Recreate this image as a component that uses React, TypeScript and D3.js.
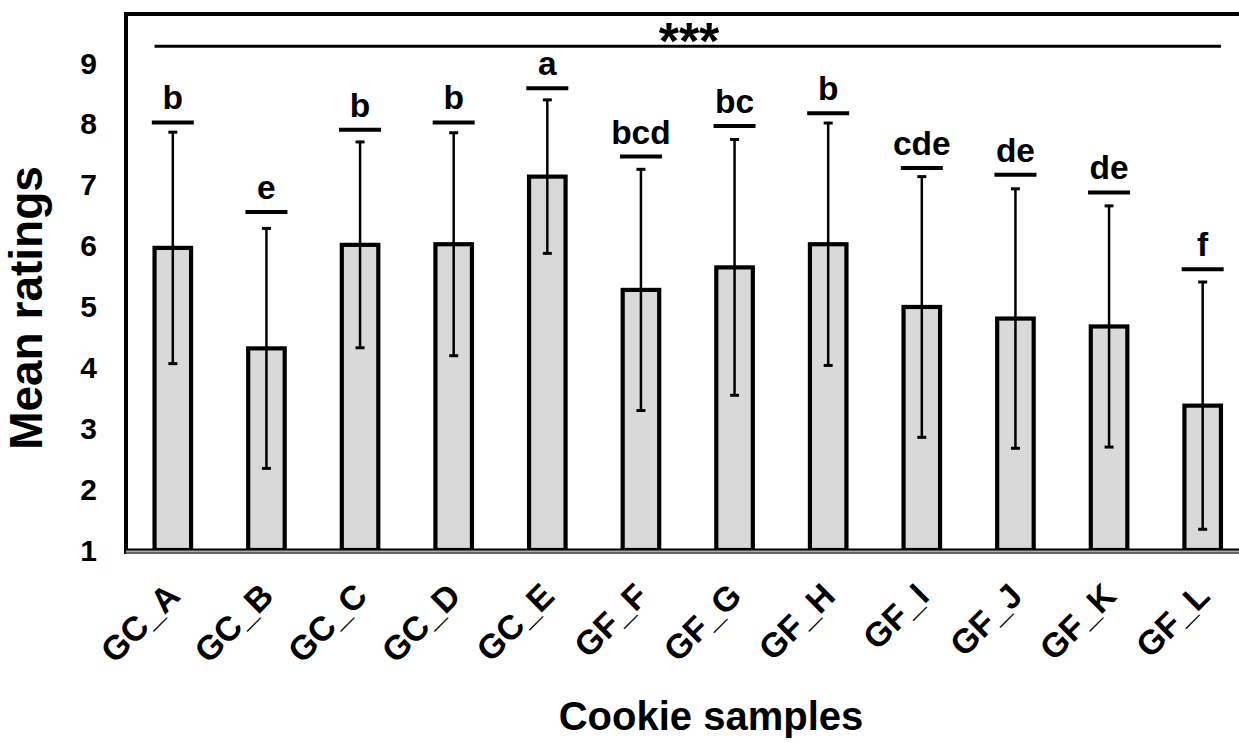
import React from "react";
import * as d3 from "d3";

const categories = ["GC_A", "GC_B", "GC_C", "GC_D", "GC_E", "GF_F", "GF_G", "GF_H", "GF_I", "GF_J", "GF_K", "GF_L"];
const means = [5.96, 4.31, 6.01, 6.02, 7.13, 5.27, 5.64, 6.02, 4.99, 4.8, 4.67, 3.37];
const sds = [1.9, 1.97, 1.69, 1.83, 1.26, 1.98, 2.1, 1.99, 2.14, 2.13, 1.98, 2.03];
const letters = ["b", "e", "b", "b", "a", "bcd", "bc", "b", "cde", "de", "de", "f"];
const letterLevels = [8.02, 6.55, 7.9, 8.02, 8.58, 7.46, 7.96, 8.17, 7.27, 7.16, 6.87, 5.61];
const yTicks = [1, 2, 3, 4, 5, 6, 7, 8, 9];
const signifLabel = "***";
const signifLevel = 9.27;

const W = 1239;
const H = 743;
const FONT = "'Liberation Sans', Arial, sans-serif";

export default function App() {
  const x = d3.scaleBand<string>().domain(categories).range([126, 1249.5]).paddingInner(0.61).paddingOuter(0.305);
  const y = d3.scaleLinear().domain([1, 9.8]).range([550, 14]);
  const bw = x.bandwidth();
  const base = y(1);

  return (
    <svg width={W} height={H} style={{ position: "absolute", left: 0, top: 0, background: "#fff" }} fontFamily={FONT}>
      <rect x={0} y={0} width={W} height={H} fill="#fff" />
      {/* bars */}
      {categories.map((c, i) => {
        const x0 = x(c)!;
        return (
          <rect key={c} x={x0} y={y(means[i])} width={bw} height={base - y(means[i])} fill="#d9d9d9" stroke="#000" strokeWidth={4.2} />
        );
      })}
      {/* error bars */}
      {categories.map((c, i) => {
        const cx = x(c)! + bw / 2;
        const top = y(means[i] + sds[i]);
        const bot = y(means[i] - sds[i]);
        return (
          <g key={"e" + c} stroke="#000">
            <line x1={cx} x2={cx} y1={top} y2={bot} strokeWidth={2.5} />
            <line x1={cx - 4.5} x2={cx + 4.5} y1={top} y2={top} strokeWidth={3} />
            <line x1={cx - 4.5} x2={cx + 4.5} y1={bot} y2={bot} strokeWidth={3} />
          </g>
        );
      })}
      {/* letters */}
      {categories.map((c, i) => {
        const cx = x(c)! + bw / 2;
        const ly = y(letterLevels[i]);
        return (
          <g key={"l" + c}>
            <line x1={cx - 21} x2={cx + 21} y1={ly} y2={ly} stroke="#000" strokeWidth={4} />
            <text x={cx} y={ly - 13} textAnchor="middle" fontSize={33.5} fontWeight="bold">
              {letters[i]}
            </text>
          </g>
        );
      })}
      {/* significance line */}
      <line
        x1={x(categories[0])!}
        x2={x(categories[categories.length - 1])! + bw}
        y1={y(signifLevel)}
        y2={y(signifLevel)}
        stroke="#000"
        strokeWidth={3}
      />
      <text x={689} y={59} textAnchor="middle" fontSize={52} fontWeight="bold">
        {signifLabel}
      </text>
      {/* frame */}
      <line x1={124} x2={W} y1={14} y2={14} stroke="#000" strokeWidth={4} />
      <line x1={126} x2={126} y1={12} y2={554} stroke="#000" strokeWidth={4} />
      <rect x={126} y={549} width={W - 126} height={5} fill="#aaa" />
      <line x1={124} x2={W} y1={549.5} y2={549.5} stroke="#000" strokeWidth={1.8} />
      <line x1={124} x2={W} y1={553} y2={553} stroke="#222" strokeWidth={1.2} />
      {/* y ticks */}
      {yTicks.map((t) => (
        <text key={t} x={97} y={y(t)} dy="0.36em" textAnchor="end" fontSize={30} fontWeight="bold">
          {t}
        </text>
      ))}
      {/* x labels */}
      {categories.map((c) => {
        const cx = x(c)! + bw / 2;
        return (
          <text key={"x" + c} transform={`translate(${cx + 9},${598}) rotate(-45)`} textAnchor="end" fontSize={34} fontWeight="bold">
            {c}
          </text>
        );
      })}
      {/* axis titles */}
      <text transform={`translate(42,${308}) rotate(-90)`} textAnchor="middle" fontSize={46} fontWeight="bold">
        Mean ratings
      </text>
      <text x={711} y={730} textAnchor="middle" fontSize={40} fontWeight="bold">
        Cookie samples
      </text>
    </svg>
  );
}
